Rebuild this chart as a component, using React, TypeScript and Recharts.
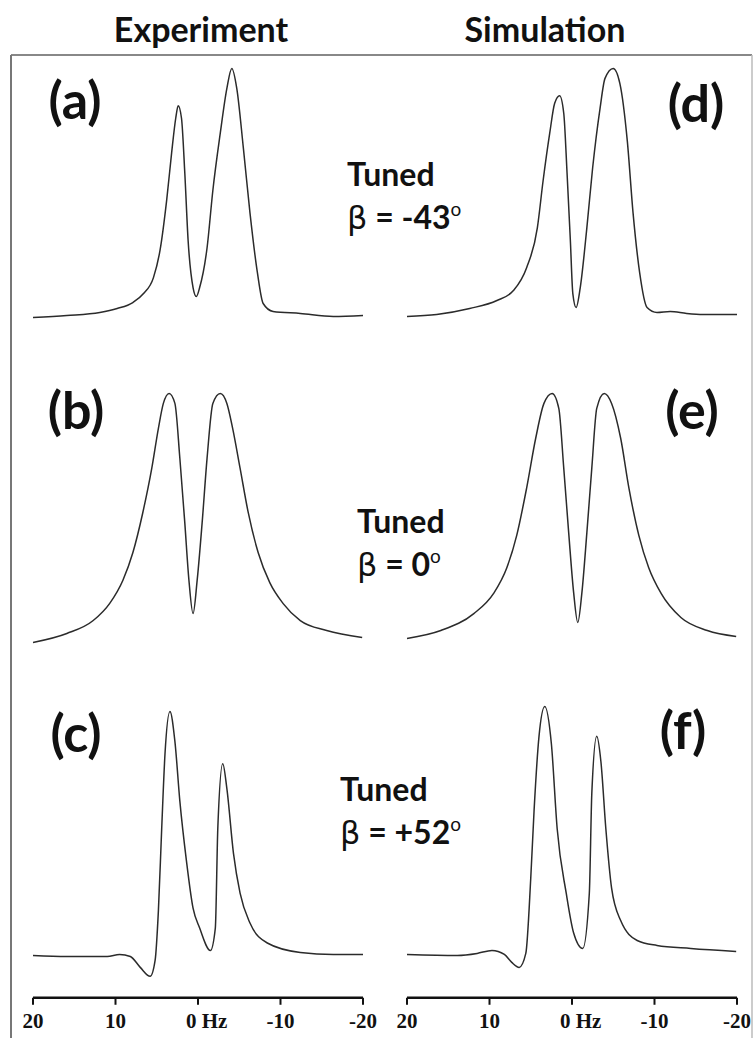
import React from 'react';
import { LineChart, Line, XAxis, YAxis } from 'recharts';

// frequency axis ticks (Hz) and their labels
const hzTicks = [20, 10, 0, -10, -20];
const hzLabels = ['20', '10', '0 Hz', '-10', '-20'];

// (a) experiment, beta = -43
const freqA = [20, 15.9, 11.9, 9.8, 7.9, 6.6, 5.4, 4.6, 3.8, 3.2, 2.7, 2.4, 2.0, 1.6, 1.2, 0.6, 0.2, -0.2, -1.1, -1.8, -2.7, -3.5, -4.1, -4.7, -5.5, -6.3, -7.2, -7.9, -9.1, -12.4, -16.4, -20];
const intA = [0, 0.8, 2, 3.6, 6, 9.6, 16, 27, 47, 66, 80, 85, 80, 58, 31, 12, 8.4, 12, 28, 51, 74, 92, 100, 92, 68, 42, 18, 5.6, 2.4, 1.6, 0.4, 0.8];

// (b) experiment, beta = 0
const freqB = [20, 15.9, 12.7, 10.7, 9.1, 7.9, 6.7, 5.6, 4.8, 4.2, 3.5, 2.8, 2.2, 1.6, 1.1, 0.6, 0.1, -0.5, -1.1, -1.8, -2.7, -3.5, -4.2, -5.1, -6.1, -7.3, -8.7, -10.3, -12.4, -15.6, -19.9];
const intB = [0, 3.6, 8.8, 15.7, 25, 36, 52, 70, 86, 96, 100, 96, 74, 48, 25, 11.6, 25, 48, 74, 96, 100, 96, 86, 70, 52, 36, 24, 15.7, 8.8, 4.8, 2];

// (c) experiment, beta = +52
const freqC = [20, 15.9, 11, 9.5, 8.2, 7.0, 5.8, 5.2, 4.8, 4.4, 4.0, 3.4, 2.8, 2.2, 1.4, 0.6, -0.2, -1.5, -2.1, -2.4, -3.0, -3.5, -4.3, -5.1, -6.3, -8.4, -12.4, -16.4, -20];
const intC = [0, -0.4, -0.4, 0.4, -0.4, -4.8, -8.4, -2, 18, 51, 81, 98, 86, 62, 38, 19, 11, 2, 11, 51, 77, 67, 41, 25, 13, 5, 1.2, 0.4, 0.4];

// (d) simulation, beta = -43
const freqD = [20, 16.4, 12.4, 9.1, 7.1, 5.5, 4.2, 3.5, 2.7, 2.1, 1.5, 1.0, 0.6, 0.2, -0.1, -0.5, -1.0, -1.8, -2.5, -3.4, -4.0, -5.0, -5.8, -6.7, -7.4, -8.2, -9.1, -10.3, -11.9, -13.9, -15.9, -20];
const intD = [0.4, 1.2, 3.6, 6.8, 10.8, 20, 36, 55, 74, 86, 89, 82, 58, 31, 9.6, 4, 12, 36, 60, 84, 96, 100, 94, 71, 42, 18, 4, 2, 2.4, 1.6, 1.2, 1.2];

// (e) simulation, beta = 0
const freqE = [20, 15.9, 11.9, 9.5, 7.9, 6.7, 5.5, 4.4, 3.4, 2.4, 1.6, 1.0, 0.4, -0.2, -0.7, -1.2, -1.8, -2.4, -3.0, -3.9, -4.8, -5.9, -6.9, -8.1, -9.3, -10.8, -13.2, -16.4, -19.9];
const intE = [1.6, 4.8, 11.6, 19.7, 30, 43, 62, 82, 96, 100, 94, 70, 44, 20, 8, 20, 44, 70, 94, 100, 96, 82, 62, 43, 30, 19.7, 10, 4.8, 2.4];

// (f) simulation, beta = +52
const freqF = [20, 13.9, 11.5, 9.7, 8.2, 7.3, 6.4, 5.6, 5.0, 4.6, 4.0, 3.3, 2.5, 1.8, 0.7, -0.2, -1.3, -2.1, -2.4, -3.0, -3.5, -4.1, -4.8, -5.9, -7.9, -10.3, -14.4, -19.9];
const intF = [0.4, 0, 0.8, 2, 0.4, -2.8, -4.8, 0.8, 31, 58, 88, 100, 85, 51, 25, 9, 2.8, 25, 65, 88, 78, 51, 27, 14, 6, 4, 2.8, 1.6];

const zip = (f: number[], v: number[]) => f.map((hz, i) => ({ hz, v: v[i] }));

const PX = 2.49; // pixels per intensity unit
const PLOT_W = 330;

const HzTick = ({ x, y, payload }: any) => {
  const i = hzTicks.indexOf(payload.value);
  const label = hzLabels[i];
  const isZero = payload.value === 0;
  return (
    <text
      x={isZero ? x - 12 : x}
      y={y + 21}
      textAnchor={isZero ? 'start' : 'middle'}
      fontFamily="'Liberation Serif', serif"
      fontWeight={700}
      fontSize={21}
      fill="#111"
    >
      {label}
    </text>
  );
};

interface PanelProps {
  data: { hz: number; v: number }[];
  left: number;
  zeroY: number;
  yMin: number;
  axis?: boolean;
}

const Panel = ({ data, left, zeroY, yMin, axis = false }: PanelProps) => {
  const yMax = 105;
  const plotH = (yMax - yMin) * PX;
  const top = zeroY - yMax * PX;
  const axisH = axis ? 38 : 0;
  return (
    <div style={{ position: 'absolute', left, top }}>
      <LineChart
        width={PLOT_W + 50}
        height={plotH + axisH}
        data={data}
        margin={{ top: 0, right: 17, bottom: 0, left: 33 }}
      >
        <XAxis
          dataKey="hz"
          type="number"
          domain={[-20, 20]}
          reversed
          hide={!axis}
          ticks={hzTicks}
          interval={0}
          height={axisH}
          tickSize={7}
          axisLine={{ stroke: '#111', strokeWidth: 2.5 }}
          tickLine={{ stroke: '#111', strokeWidth: 2 }}
          tick={<HzTick />}
        />
        <YAxis hide type="number" domain={[yMin, yMax]} allowDataOverflow />
        <Line
          type="monotone"
          dataKey="v"
          stroke="#2b2b2b"
          strokeWidth={1.5}
          dot={false}
          isAnimationActive={false}
        />
      </LineChart>
    </div>
  );
};

const sans = "Lato, 'Open Sans', sans-serif";

const Note = ({ x, y, beta }: { x: number; y: number; beta: string }) => (
  <g fill="#111">
    <text x={x} y={y} fontFamily={sans} fontWeight={700} fontSize={32}>Tuned</text>
    <text x={x} y={y + 43} fontFamily={sans} fontWeight={700} fontSize={32}>
      <tspan fontFamily="'DejaVu Sans', sans-serif" fontWeight={400} fontSize={32}>β</tspan>
      <tspan> = {beta}</tspan>
      <tspan fontWeight={400} fontSize={19} dy={-13}>o</tspan>
    </text>
  </g>
);

export default function App() {
  return (
    <div style={{ position: 'absolute', left: 0, top: 0, width: 754, height: 1038, background: '#fff', overflow: 'hidden' }}>
      <Panel data={zip(freqA, intA)} left={0} zeroY={317} yMin={-15} />
      <Panel data={zip(freqD, intD)} left={374} zeroY={317} yMin={-15} />
      <Panel data={zip(freqB, intB)} left={0} zeroY={642} yMin={-15} />
      <Panel data={zip(freqE, intE)} left={374} zeroY={642} yMin={-15} />
      <Panel data={zip(freqC, intC)} left={0} zeroY={955} yMin={-17} axis />
      <Panel data={zip(freqF, intF)} left={374} zeroY={955} yMin={-17} axis />
      <svg width={754} height={1038} style={{ position: 'absolute', left: 0, top: 0, pointerEvents: 'none' }}>
        <line x1={11} y1={55} x2={752} y2={55} stroke="#888" strokeWidth={2} />
        <line x1={11} y1={55} x2={11} y2={1038} stroke="#777" strokeWidth={2} />
        <line x1={752} y1={55} x2={752} y2={1038} stroke="#bbb" strokeWidth={1.5} />
        <text x={201} y={42} textAnchor="middle" fontFamily={sans} fontWeight={700} fontSize={34} fill="#111">Experiment</text>
        <text x={545} y={42} textAnchor="middle" fontFamily={sans} fontWeight={700} fontSize={34} fill="#111">Simulation</text>
        <g fontFamily={sans} fontWeight={700} fontSize={52} fill="#111" textAnchor="middle">
          <text x={75} y={119}>(a)</text>
          <text x={696} y={122}>(d)</text>
          <text x={76} y={429}>(b)</text>
          <text x={692} y={429}>(e)</text>
          <text x={76} y={752}>(c)</text>
          <text x={683} y={749}>(f)</text>
        </g>
        <Note x={347} y={186} beta="-43" />
        <Note x={357} y={533} beta="0" />
        <Note x={340} y={801} beta="+52" />
      </svg>
    </div>
  );
}
